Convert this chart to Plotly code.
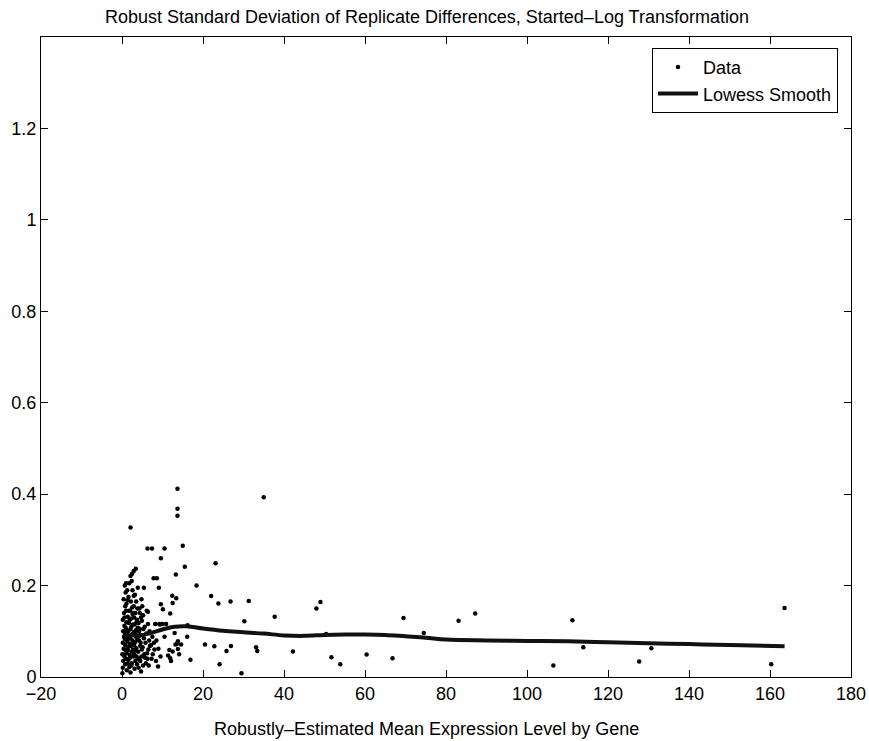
import plotly.graph_objects as go

# ---- data: robustly-estimated mean expression level (x) vs robust SD (y)
data_x = [
    # dense cluster near zero
    0.1, 0.2, 0.3, 0.1, 0.4, 0.2, 0.5, 0.3, 0.6, 0.2, 0.5, 0.8, 0.4, 0.9, 0.7, 0.6, 0.9, 0.8, 0.7, 1.0,
    0.9, 0.6, 1.0, 0.8, 1.0,
    1.2, 1.4, 1.1, 1.5, 1.3, 1.6, 1.2, 1.7, 1.4, 1.1, 1.6, 1.3, 1.8, 1.9, 1.5, 1.8, 1.9, 1.7, 1.2, 1.5,
    1.8, 1.4, 1.6, 1.9, 1.1,
    2.1, 2.3, 2.0, 2.5, 2.2, 2.6, 2.4, 2.1, 2.7, 2.3, 2.8, 2.5, 2.2, 2.9, 2.6, 2.4, 2.1, 2.5, 2.9, 3.4,
    2.7, 2.9, 2.0, 2.8, 2.6, 2.3, 2.0, 2.8, 2.4, 2.9,
    3.1, 3.3, 3.0, 3.5, 3.2, 3.6, 3.4, 3.1, 3.7, 3.3, 3.8, 3.5, 3.2, 3.9, 3.6, 3.8, 3.0, 3.4, 3.9, 3.7,
    3.2, 3.6, 3.0, 3.9, 3.5,
    4.1, 4.3, 4.0, 4.5, 4.2, 4.6, 4.4, 4.1, 4.7, 4.3, 4.8, 4.5, 4.9, 4.2, 4.6, 4.0, 4.8, 4.4, 4.9, 4.7,
    5.2, 5.5, 5.1, 5.8, 5.4, 6.0, 5.6, 5.2, 6.3, 6.5, 6.1, 5.9, 6.7, 6.4, 5.4, 6.8, 5.3, 6.2, 6.9, 5.7,
    6.6, 5.0, 6.4,
    7.2, 7.5, 7.8, 8.6, 8.2, 7.6, 8.0, 8.9, 8.4, 9.2, 9.1, 9.6, 10.5, 9.6, 10.1, 10.0, 10.9, 10.5, 11.9, 11.7,
    11.4, 11.9, 12.1, 12.5, 12.4, 7.9, 8.5, 9.0, 9.5, 7.3, 9.4, 12.5,
    # sparser points
    13.7, 13.7, 13.7, 2.1, 6.3, 7.4, 15.0, 15.5, 23.1, 13.3, 1.0, 18.4, 22.0, 23.8, 26.8, 31.3, 13.4, 30.2,
    16.2, 16.1, 20.5, 22.8, 24.1, 25.8, 26.9, 29.5, 33.1, 33.4, 13.0, 13.6, 14.6, 13.2, 13.8, 13.8, 14.1,
    16.9, 35.0, 37.7, 48.0, 49.0, 42.2, 50.4, 51.7, 53.9, 60.4, 66.8, 69.5, 74.5, 83.1, 87.2,
    111.2, 106.5, 113.9, 127.7, 130.7, 160.3, 163.6,
]
data_y = [
    0.008, 0.020, 0.035, 0.050, 0.062, 0.075, 0.088, 0.100, 0.112, 0.125, 0.140, 0.155, 0.170, 0.185, 0.200, 0.045, 0.058, 0.070, 0.083, 0.095,
    0.108, 0.130, 0.145, 0.028, 0.040,
    0.015, 0.030, 0.052, 0.065, 0.078, 0.090, 0.103, 0.118, 0.132, 0.160, 0.175, 0.190, 0.205, 0.048, 0.100, 0.085, 0.125, 0.145, 0.088, 0.058,
    0.022, 0.168, 0.038, 0.072, 0.120,
    0.010, 0.025, 0.042, 0.055, 0.068, 0.080, 0.093, 0.105, 0.115, 0.128, 0.140, 0.152, 0.165, 0.178, 0.190, 0.210, 0.221, 0.226, 0.232, 0.237,
    0.060, 0.098, 0.085, 0.045, 0.138, 0.110, 0.145, 0.072, 0.030, 0.155,
    0.018, 0.035, 0.050, 0.063, 0.076, 0.090, 0.102, 0.115, 0.125, 0.140, 0.150, 0.165, 0.180, 0.195, 0.045, 0.082, 0.130, 0.058, 0.108, 0.028,
    0.095, 0.120, 0.070, 0.040, 0.088,
    0.020, 0.040, 0.055, 0.068, 0.080, 0.092, 0.105, 0.118, 0.130, 0.150, 0.170, 0.035, 0.060, 0.100, 0.075, 0.088, 0.045, 0.140, 0.123, 0.012,
    0.025, 0.050, 0.065, 0.075, 0.085, 0.095, 0.110, 0.135, 0.040, 0.060, 0.145, 0.030, 0.080, 0.116, 0.195, 0.100, 0.105, 0.052, 0.068, 0.042,
    0.025, 0.155, 0.143,
    0.070, 0.088, 0.216, 0.216, 0.116, 0.050, 0.060, 0.023, 0.035, 0.116, 0.195, 0.260, 0.281, 0.159, 0.148, 0.116, 0.116, 0.088, 0.139, 0.059,
    0.047, 0.041, 0.035, 0.056, 0.178, 0.075, 0.080, 0.062, 0.045, 0.040, 0.115, 0.162,
    0.412, 0.368, 0.353, 0.327, 0.281, 0.281, 0.287, 0.241, 0.249, 0.224, 0.205, 0.200, 0.177, 0.161, 0.165, 0.166, 0.172, 0.122,
    0.113, 0.088, 0.071, 0.067, 0.028, 0.057, 0.068, 0.008, 0.065, 0.057, 0.096, 0.073, 0.071, 0.071, 0.078, 0.061, 0.050,
    0.038, 0.393, 0.132, 0.150, 0.164, 0.056, 0.094, 0.043, 0.028, 0.049, 0.041, 0.129, 0.096, 0.123, 0.139,
    0.124, 0.025, 0.065, 0.034, 0.063, 0.028, 0.151,
]

# ---- lowess smooth curve
smooth_x = [0.2, 2, 4.5, 7, 10, 13, 16, 20, 25, 30, 35, 40, 45, 50, 55, 60, 65, 70, 75, 80,
            90, 100, 110, 120, 130, 140, 150, 163.6]
smooth_y = [0.092, 0.091, 0.091, 0.096, 0.104, 0.110, 0.111, 0.106, 0.101, 0.098, 0.095, 0.091, 0.090, 0.092, 0.093, 0.093, 0.092, 0.089, 0.086, 0.082,
            0.080, 0.079, 0.078, 0.076, 0.074, 0.072, 0.070, 0.067]

x_ticks = [-20, 0, 20, 40, 60, 80, 100, 120, 140, 160, 180]
y_ticks = [0, 0.2, 0.4, 0.6, 0.8, 1.0, 1.2]
y_tick_labels = ["0", "0.2", "0.4", "0.6", "0.8", "1", "1.2"]

TITLE = "Robust Standard Deviation of Replicate Differences, Started–Log Transformation"
XLABEL = "Robustly–Estimated Mean Expression Level by Gene"

FONT = "Liberation Sans, Arial, Helvetica, sans-serif"

W, H = 869, 741
TEXT_CENTER = 0.4765  # title / x-label centre (paper fraction), as in the original

fig = go.Figure()
fig.add_trace(go.Scatter(
    x=data_x, y=data_y, mode="markers", name="Data",
    marker=dict(color="black", size=4.5),
))
fig.add_trace(go.Scatter(
    x=smooth_x, y=smooth_y, mode="lines", name="Lowess Smooth",
    line=dict(color="#111111", width=4, shape="spline"),
))

fig.update_layout(
    width=W, height=H,
    paper_bgcolor="white", plot_bgcolor="white",
    margin=dict(l=41, r=18, t=37, b=64, pad=0),
    font=dict(family=FONT, size=18, color="black"),
    title=dict(
        text=TITLE,
        x=TEXT_CENTER, xanchor="center", xref="paper", y=1 - 17 / H, yanchor="middle", yref="container",
        font=dict(size=18, family=FONT, color="black"),
    ),
    showlegend=True,
    legend=dict(
        x=0.7543, xanchor="left", y=0.983, yanchor="top",
        bgcolor="white", bordercolor="black", borderwidth=1,
        font=dict(size=18, family=FONT), itemwidth=40,
        tracegroupgap=0,
    ),
    annotations=[dict(
        text=XLABEL, xref="paper", yref="paper", x=TEXT_CENTER, y=-52 / 640,
        xanchor="center", yanchor="middle", showarrow=False,
        font=dict(size=18, family=FONT, color="black"),
    )],
)
fig.update_xaxes(
    range=[-20, 180], tickvals=x_ticks, ticks="inside", ticklen=7, tickcolor="black",
    showline=True, linecolor="black", linewidth=1, mirror="ticks",
    showgrid=False, zeroline=False, automargin=False,
    tickfont=dict(size=18, family=FONT),
)
fig.update_yaxes(
    range=[0, 1.4], tickvals=y_ticks, ticktext=y_tick_labels, ticks="inside", ticklen=7, tickcolor="black",
    showline=True, linecolor="black", linewidth=1, mirror="ticks",
    showgrid=False, zeroline=False, automargin=False,
    tickfont=dict(size=18, family=FONT),
)

# remove the browser's default page margin so the figure sits at the window's corner
fig.write_html(
    "out.html",
    config={"displayModeBar": False},
    post_script="document.body.style.margin='0';document.body.style.overflow='hidden';",
)
